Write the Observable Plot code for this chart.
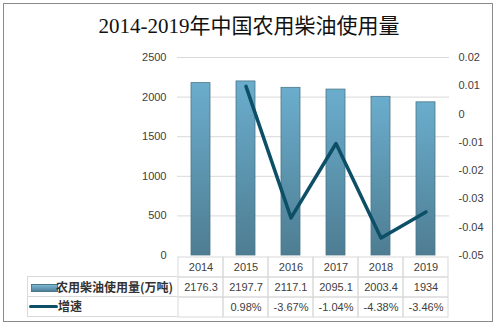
<!DOCTYPE html>
<html><head><meta charset="utf-8">
<script src="https://cdn.jsdelivr.net/npm/d3@7"></script>
<script src="https://cdn.jsdelivr.net/npm/@observablehq/plot@0.6"></script>
<style>
body{margin:0;background:#fff;}
#wrap{position:relative;width:498px;height:328px;overflow:hidden;font-family:Tahoma,"Liberation Sans",Arial,sans-serif;}
#frame{position:absolute;left:3px;top:3px;width:488px;height:317px;border:1.5px solid #8a8a8a;}
#title{position:absolute;left:0;top:13px;width:498px;text-align:center;font-family:"Liberation Serif","Noto Sans CJK SC",serif;font-size:21px;line-height:26px;color:#111;}
#main,#table{position:absolute;left:0;}
#main{top:0;}
#table{top:256px;}
.leg{position:absolute;left:27px;width:150px;border:1px solid #d9d9d9;border-right:none;box-sizing:border-box;font-size:12px;color:#333;font-family:"Noto Sans CJK SC",sans-serif;font-weight:bold;}
.leg span{position:absolute;}
.sw{position:absolute;}
</style></head>
<body>
<div id="wrap">
  <div id="frame"></div>
  <div id="title"></div>
  <div id="main"></div>
  <div id="table"></div>
  <div class="leg" id="leg1" style="top:276px;height:21px;"><div class="sw" style="left:3px;top:7px;width:25px;height:6px;background:linear-gradient(#7bb6d3,#4f8099);border:0.5px solid #4b7789;"></div><span id="n1" style="left:28px;top:1px;line-height:18px;"></span></div>
  <div class="leg" id="leg2" style="top:296px;height:21px;border-top:none;"><div class="sw" style="left:1px;top:9px;width:29px;height:3px;background:#0c4f67;border-radius:2px;"></div><span id="n2" style="left:30px;top:1px;line-height:18px;"></span></div>
</div>
<script>
const title = "2014-2019年中国农用柴油使用量";
const seriesNames = ["农用柴油使用量(万吨)", "增速"];
const years = ["2014", "2015", "2016", "2017", "2018", "2019"];
const amounts = [2176.3, 2197.7, 2117.1, 2095.1, 2003.4, 1934];
const amountLabels = ["2176.3", "2197.7", "2117.1", "2095.1", "2003.4", "1934"];
const growth = [null, 0.0098, -0.0367, -0.0104, -0.0438, -0.0346];
const growthLabels = ["", "0.98%", "-3.67%", "-1.04%", "-4.38%", "-3.46%"];
const leftTicks = [0, 500, 1000, 1500, 2000, 2500];
const rightTicks = [0.02, 0.01, 0, -0.01, -0.02, -0.03, -0.04, -0.05];

document.getElementById("title").textContent = title;
document.getElementById("n1").textContent = seriesNames[0];
document.getElementById("n2").textContent = seriesNames[1];

const LMAX = 2500, RMIN = -0.05, RMAX = 0.02;
const conv = g => (g - RMIN) / (RMAX - RMIN) * LMAX;
const inv = v => { const g = Math.round((v / LMAX * (RMAX - RMIN) + RMIN) * 100) / 100; return String(g === 0 ? 0 : g); };

const barData = years.map((y, i) => ({year: y, amount: amounts[i]}));
const lineData = years.map((y, i) => ({year: y, g: growth[i]})).filter(d => d.g != null);

const font = {fontFamily: "Tahoma, 'Liberation Sans', Arial, sans-serif", fontSize: "11px", color: "#404040", background: "transparent", overflow: "visible"};

const defs = () => {
  const g = d3.create("svg:defs");
  const lg = g.append("linearGradient").attr("id", "barGrad").attr("x1", 0).attr("y1", 0).attr("x2", 0).attr("y2", 1);
  lg.append("stop").attr("offset", "0%").attr("stop-color", "#6badcd");
  lg.append("stop").attr("offset", "100%").attr("stop-color", "#4e7d92");
  return g.node();
};

const main = Plot.plot({
  width: 498, height: 256,
  marginTop: 57, marginBottom: 1, marginLeft: 177, marginRight: 49,
  style: font,
  x: {domain: years, paddingInner: 0.58, paddingOuter: 0.29, axis: null},
  y: {domain: [0, LMAX], axis: null, label: null},
  marks: [
    defs,
    Plot.ruleY(leftTicks.slice(1), {stroke: "#d9d9d9"}),
    Plot.barY(barData, {x: "year", y: "amount", fill: "url(#barGrad)", stroke: "#4b7789", strokeWidth: 0.8}),
    Plot.line(lineData, {x: "year", y: d => conv(d.g), stroke: "#0c4f67", strokeWidth: 3.5}),
    Plot.axisY(leftTicks, {anchor: "left", label: null, tickSize: 0, tickPadding: 11, tickFormat: d => String(d), fill: "#404040"}),
    Plot.axisY(rightTicks.map(conv), {anchor: "right", label: null, tickSize: 0, tickPadding: 9, tickFormat: inv, fill: "#404040"})
  ]
});
document.getElementById("main").append(main);

const rows = ["year", "amount", "growth"];
const cells = [];
years.forEach((y, i) => {
  cells.push({year: y, row: "year", label: y});
  cells.push({year: y, row: "amount", label: amountLabels[i]});
  cells.push({year: y, row: "growth", label: growthLabels[i]});
});

const table = Plot.plot({
  width: 498, height: 62,
  marginTop: 0.5, marginBottom: 0.5, marginLeft: 177, marginRight: 49,
  style: font,
  x: {domain: years, padding: 0, axis: null},
  y: {domain: rows, padding: 0, axis: null},
  marks: [
    Plot.cell(cells, {x: "year", y: "row", fill: "none", stroke: "#d9d9d9", inset: 0}),
    Plot.text(cells, {x: "year", y: "row", text: "label", fill: "#404040"})
  ]
});
document.getElementById("table").append(table);
</script>
</body></html>
